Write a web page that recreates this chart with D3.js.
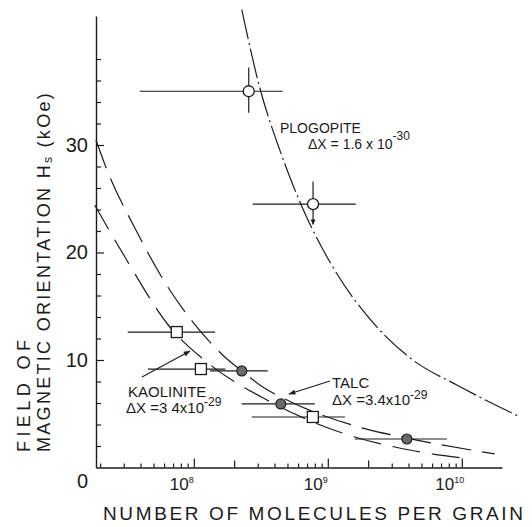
<!DOCTYPE html>
<html>
<head>
<meta charset="utf-8">
<script src="https://cdn.jsdelivr.net/npm/d3@7"></script>
<style>
  body { margin: 0; background: #fff; }
  svg { display: block; }
  text { font-family: "Liberation Sans", Arial, sans-serif; fill: #1c1c1c; }
</style>
</head>
<body>
<div id="chart"></div>
<script>
// plogopite, open circles (N molecules per grain, H in kOe)
const plogN = [2.57e8, 7.76e8];
const plogH = [35.0, 24.5];
const plogNLo = [3.95e7, 2.75e8];
const plogNHi = [4.61e8, 1.62e9];
const plogHLo = [33.0, 22.6];
const plogHHi = [37.2, 26.6];

// kaolinite, open squares
const kaolN = [7.46e7, 1.13e8, 7.73e8];
const kaolH = [12.6, 9.16, 4.7];
const kaolNLo = [3.21e7, 4.54e7, 2.71e8];
const kaolNHi = [1.44e8, 1.72e8, 1.34e9];

// talc, filled circles
const talcN = [2.28e8, 4.46e8, 3.89e9];
const talcH = [8.98, 5.91, 2.65];
const talcNLo = [1.32e8, 2.28e8, 1.59e9];
const talcNHi = [3.56e8, 8.0e8, 7.73e9];

// dashed curves
const plogCurveN = [2.28e8, 3.11e8, 4.39e8, 6.50e8, 1.09e9, 2.36e9, 4.31e9, 9.18e9, 2.71e10];
const plogCurveH = [42.6, 35.3, 29.5, 24.1, 18.65, 12.98, 10.0, 7.67, 4.7];
const talcCurveN = [1.86e7, 2.28e7, 3.63e7, 6.40e7, 9.84e7, 1.64e8, 2.28e8, 3.27e8, 4.78e8, 1.82e9, 3.89e9, 1.76e10];
const talcCurveH = [30.47, 27.49, 22.28, 16.79, 13.53, 10.47, 8.98, 7.49, 6.37, 3.67, 2.74, 1.26];
const kaolCurveN = [1.82e7, 3.06e7, 6.62e7, 1.25e8, 3.51e8, 8.41e8, 1.59e9, 4.09e9, 1.15e10];
const kaolCurveH = [24.42, 19.58, 13.07, 9.81, 6.28, 4.05, 2.84, 1.63, 0.79];

// ticks
const yMajor = [10, 20, 30];
const yMinor = [2, 4, 6, 8, 12, 14, 16, 18, 22, 24, 26, 28, 32, 34, 36, 38];
const xMajor = [1e8, 1e9, 1e10];
const xMajorExp = ['8', '9', '10'];
const xMid = [2e8, 2e9];
const xMinor = [2e7, 3e7, 4e7, 5e7, 6e7, 7e7, 8e7, 9e7,
  3e8, 4e8, 5e8, 6e8, 7e8, 8e8, 9e8,
  3e9, 4e9, 5e9, 6e9, 7e9, 8e9, 9e9];

const width = 532, height = 527;
const ink = '#1c1c1c';

const svg = d3.select('#chart').append('svg')
  .attr('width', width)
  .attr('height', height);

const x = d3.scaleLog().domain([Math.pow(10, 7.27), Math.pow(10, 10.3)]).range([96, 502]);
const y = d3.scaleLinear().domain([0, 42]).range([467.5, 16]);

const defs = svg.append('defs');
defs.append('marker')
  .attr('id', 'arr')
  .attr('viewBox', '0 0 10 10')
  .attr('refX', 9).attr('refY', 5)
  .attr('markerWidth', 9).attr('markerHeight', 7)
  .attr('markerUnits', 'userSpaceOnUse')
  .attr('orient', 'auto')
  .append('path').attr('d', 'M0,1.5 L10,5 L0,8.5 Z').attr('fill', ink);

// y axis
const gy = svg.append('g').attr('transform', 'translate(96,0)');
gy.call(d3.axisLeft(y).tickValues(yMajor).tickSize(-8).tickSizeOuter(0).tickPadding(8));
gy.append('g').call(d3.axisLeft(y).tickValues(yMinor).tickSize(-5).tickSizeOuter(0).tickFormat(''))
  .select('.domain').remove();
gy.selectAll('.tick line').attr('stroke', ink).attr('stroke-width', 1.2);
gy.select('.domain').attr('stroke', ink).attr('stroke-width', 1.4);
gy.selectAll('.tick text').attr('font-size', 20).attr('fill', ink)
  .style('font-family', '"Liberation Sans", Arial, sans-serif');
gy.append('text')
  .attr('x', -8).attr('y', y(0) + 20)
  .attr('text-anchor', 'end').attr('font-size', 20)
  .text('0');

// x axis
const gx = svg.append('g').attr('transform', 'translate(0,467.5)');
gx.call(d3.axisBottom(x).tickValues(xMajor).tickSize(-9).tickSizeOuter(0).tickFormat(''));
gx.append('g').call(d3.axisBottom(x).tickValues(xMid).tickSize(-7).tickSizeOuter(0).tickFormat(''))
  .select('.domain').remove();
gx.append('g').call(d3.axisBottom(x).tickValues(xMinor).tickSize(-4).tickSizeOuter(0).tickFormat(''))
  .select('.domain').remove();
gx.selectAll('.tick line').attr('stroke', ink).attr('stroke-width', 1.2);
gx.select('.domain').attr('stroke', ink).attr('stroke-width', 1.4);

xMajor.forEach(function(v, i) {
  const t = gx.append('text')
    .attr('x', x(v) - 12).attr('y', 22.5)
    .attr('font-size', 17);
  t.append('tspan').text('10');
  t.append('tspan').attr('dy', -7).attr('font-size', 9).text(xMajorExp[i]);
});

// axis titles
svg.append('text')
  .attr('x', 103).attr('y', 520)
  .attr('font-size', 19)
  .attr('textLength', 420).attr('lengthAdjust', 'spacing')
  .text('NUMBER OF MOLECULES PER GRAIN');

svg.append('text')
  .attr('transform', 'translate(30,452) rotate(-90)')
  .attr('font-size', 18)
  .attr('textLength', 112).attr('lengthAdjust', 'spacing')
  .text('FIELD OF');

const yl = svg.append('text')
  .attr('transform', 'translate(50,452) rotate(-90)')
  .attr('font-size', 18)
  .attr('letter-spacing', 2.3);
yl.append('tspan').text('MAGNETIC  ORIENTATION  H');
yl.append('tspan').attr('font-size', 12).attr('dy', 2).text('s');
yl.append('tspan').attr('dy', -2).text(' (kOe)');

// dashed theory curves
const line = d3.line()
  .x(function(d) { return x(d[0]); })
  .y(function(d) { return y(d[1]); })
  .curve(d3.curveMonotoneX);

function curve(ns, hs, dash) {
  svg.append('path')
    .datum(ns.map(function(n, i) { return [n, hs[i]]; }))
    .attr('d', line)
    .attr('fill', 'none')
    .attr('stroke', ink)
    .attr('stroke-width', 1.2)
    .attr('stroke-dasharray', dash);
}
curve(plogCurveN, plogCurveH, '30,4,2,4');
curve(talcCurveN, talcCurveH, '30,11');
curve(kaolCurveN, kaolCurveH, '28,12');

// error bars
function hbars(ns, hs, lo, hi) {
  svg.append('g').selectAll('line')
    .data(ns)
    .enter().append('line')
    .attr('x1', function(d, i) { return x(lo[i]); })
    .attr('x2', function(d, i) { return x(hi[i]); })
    .attr('y1', function(d, i) { return y(hs[i]); })
    .attr('y2', function(d, i) { return y(hs[i]); })
    .attr('stroke', ink)
    .attr('stroke-width', 1.2);
}
hbars(plogN, plogH, plogNLo, plogNHi);
hbars(kaolN, kaolH, kaolNLo, kaolNHi);
hbars(talcN, talcH, talcNLo, talcNHi);

svg.append('g').selectAll('line')
  .data(plogN)
  .enter().append('line')
  .attr('x1', function(d) { return x(d); })
  .attr('x2', function(d) { return x(d); })
  .attr('y1', function(d, i) { return y(plogHHi[i]); })
  .attr('y2', function(d, i) { return y(plogHLo[i]); })
  .attr('stroke', ink)
  .attr('stroke-width', 1.2);
// small arrow at the foot of the second plogopite bar
svg.append('path')
  .attr('d', 'M' + (x(plogN[1]) - 2.5) + ',' + (y(plogHLo[1]) - 5) +
    ' L' + x(plogN[1]) + ',' + y(plogHLo[1]) +
    ' L' + (x(plogN[1]) + 2.5) + ',' + (y(plogHLo[1]) - 5) + ' Z')
  .attr('fill', ink);

// markers
svg.append('g').selectAll('circle')
  .data(plogN)
  .enter().append('circle')
  .attr('cx', function(d) { return x(d); })
  .attr('cy', function(d, i) { return y(plogH[i]); })
  .attr('r', 5.5)
  .attr('fill', '#fff')
  .attr('stroke', ink)
  .attr('stroke-width', 1.3);

svg.append('g').selectAll('rect')
  .data(kaolN)
  .enter().append('rect')
  .attr('x', function(d) { return x(d) - 5.5; })
  .attr('y', function(d, i) { return y(kaolH[i]) - 5.5; })
  .attr('width', 11).attr('height', 11)
  .attr('fill', '#fff')
  .attr('stroke', ink)
  .attr('stroke-width', 1.3);

svg.append('g').selectAll('circle')
  .data(talcN)
  .enter().append('circle')
  .attr('cx', function(d) { return x(d); })
  .attr('cy', function(d, i) { return y(talcH[i]); })
  .attr('r', 5)
  .attr('fill', '#6a6a6a')
  .attr('stroke', '#222')
  .attr('stroke-width', 1.2);

// annotations
svg.append('text').attr('x', 280).attr('y', 133).attr('font-size', 14).text('PLOGOPITE');
const pl = svg.append('text').attr('x', 308).attr('y', 149).attr('font-size', 14);
pl.append('tspan').text('ΔX = 1.6 x 10');
pl.append('tspan').attr('dy', -9).attr('font-size', 12).text('-30');

svg.append('text').attr('x', 128).attr('y', 397).attr('font-size', 15).text('KAOLINITE');
const kl = svg.append('text').attr('x', 126).attr('y', 413).attr('font-size', 15);
kl.append('tspan').text('ΔX =3 4x10');
kl.append('tspan').attr('dy', -7).attr('font-size', 12).text('-29');

svg.append('text').attr('x', 332).attr('y', 388).attr('font-size', 15).text('TALC');
const tl = svg.append('text').attr('x', 332).attr('y', 405).attr('font-size', 15);
tl.append('tspan').text('ΔX =3.4x10');
tl.append('tspan').attr('dy', -6).attr('font-size', 12).text('-29');

svg.append('line')
  .attr('x1', 142).attr('y1', 377).attr('x2', 190).attr('y2', 351)
  .attr('stroke', ink).attr('stroke-width', 1.1)
  .attr('marker-end', 'url(#arr)');
svg.append('line')
  .attr('x1', 330).attr('y1', 381).attr('x2', 289).attr('y2', 394)
  .attr('stroke', ink).attr('stroke-width', 1.1)
  .attr('marker-end', 'url(#arr)');
</script>
</body>
</html>
